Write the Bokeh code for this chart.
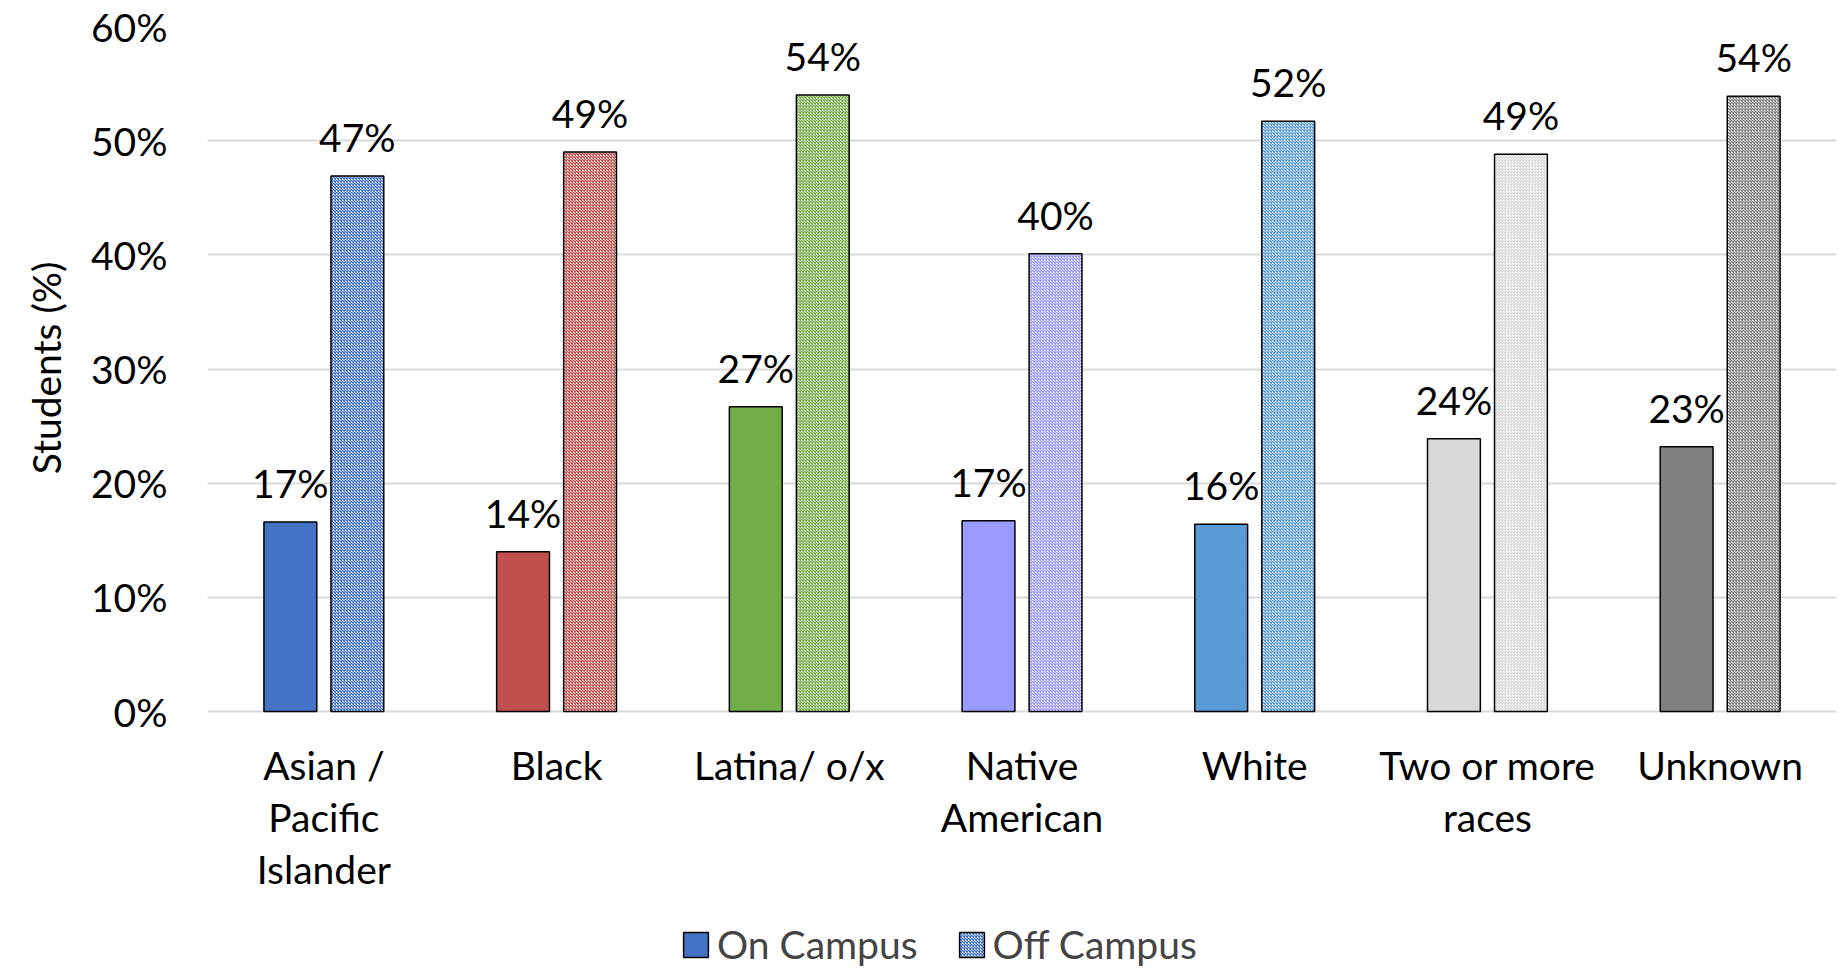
from bokeh.plotting import figure
from bokeh.models import (ColumnDataSource, FactorRange, Range1d, Legend, LegendItem,
                          FixedTicker, PrintfTickFormatter, Title)
from bokeh.transform import dodge
from bokeh.core.properties import value
from bokeh.embed import file_html
from bokeh.resources import INLINE

# ---- data ----
categories = ["Asian /\nPacific\nIslander", "Black", "Latina/ o/x", "Native\nAmerican",
              "White", "Two or more\nraces", "Unknown"]
on_campus = [16.6, 14.0, 26.7, 16.7, 16.4, 23.9, 23.2]
off_campus = [46.9, 49.0, 54.0, 40.1, 51.7, 48.8, 53.9]
colors = ["#4472C4", "#C0504D", "#70AD47", "#9999FF", "#5B9BD5", "#D9D9D9", "#808080"]
y_ticks = [0, 10, 20, 30, 40, 50, 60]
series_names = ["On Campus", "Off Campus"]
y_label = "Students (%)"

FONT = "Lato"
FS = "39px"

src = ColumnDataSource(dict(
    cat=categories,
    on=on_campus,
    off=off_campus,
    color=colors,
    on_lbl=[f"{round(v)}%" for v in on_campus],
    off_lbl=[f"{round(v)}%" for v in off_campus],
))

# frame spans down to the bottom of the canvas so that category labels and
# legend sit inside it; 0% is placed 685px below 60%
FRAME_W, FRAME_H, LEFT, TOP, PX_PER_60 = 1629, 942, 204, 26, 685
y_lo = 60 - FRAME_H * 60 / PX_PER_60

p = figure(x_range=FactorRange(*categories), y_range=Range1d(y_lo, 60),
           frame_width=FRAME_W, frame_height=FRAME_H,
           output_backend="svg", toolbar_location=None,
           x_axis_location=None,
           min_border_left=LEFT, min_border_right=0, min_border_top=TOP,
           min_border_bottom=0)
p.outline_line_color = None
p.background_fill_color = "white"

off_w = 0.144
bw = 0.227
r_on = p.vbar(x=dodge("cat", -off_w, range=p.x_range), top="on", width=bw, source=src,
              fill_color="color", line_color="black", line_width=1.5)
r_off = p.vbar(x=dodge("cat", off_w, range=p.x_range), top="off", width=bw, source=src,
               fill_color="white", line_color="black", line_width=1.5,
               hatch_pattern="diagonal_cross", hatch_color="color",
               hatch_scale=3, hatch_weight=1.5)

p.text(x=dodge("cat", -off_w, range=p.x_range), y="on", text="on_lbl", source=src,
       text_align="center", text_baseline="bottom", y_offset=-16,
       text_font=value(FONT), text_font_size=FS, text_color="black")
p.text(x=dodge("cat", off_w, range=p.x_range), y="off", text="off_lbl", source=src,
       text_align="center", text_baseline="bottom", y_offset=-16,
       text_font=value(FONT), text_font_size=FS, text_color="black")

# category labels (x axis) drawn under the 0% line
p.text(x="cat", y=0, text="cat", source=src, text_align="center", text_baseline="top",
       y_offset=30, text_line_height=1.14,
       text_font=value(FONT), text_font_size=FS, text_color="black")

# y axis
p.yaxis.ticker = FixedTicker(ticks=y_ticks)
p.yaxis.formatter = PrintfTickFormatter(format="%d%%")
p.yaxis.axis_line_color = None
p.yaxis.major_tick_line_color = None
p.yaxis.minor_tick_line_color = None
p.yaxis.major_label_standoff = 34
p.yaxis.major_label_text_font = FONT
p.yaxis.major_label_text_font_size = FS
p.yaxis.major_label_text_color = "black"

ttl = Title(text=y_label, align="right", offset=235, standoff=40,
            text_font=FONT, text_font_size=FS, text_font_style="normal",
            text_color="black")
p.add_layout(ttl, "left")

p.xgrid.grid_line_color = None
p.ygrid.grid_line_color = "#D9D9D9"
p.ygrid.grid_line_width = 2

legend = Legend(items=[LegendItem(label=series_names[0], renderers=[r_on], index=0),
                       LegendItem(label=series_names[1], renderers=[r_off], index=0)],
                orientation="horizontal", location=(473, 1),
                label_text_font=FONT, label_text_font_size=FS,
                glyph_width=31, glyph_height=31, label_standoff=6, spacing=38,
                padding=0, margin=0, border_line_color=None,
                background_fill_alpha=0)
p.add_layout(legend, "center")

open("out.html", "w").write(file_html(p, INLINE))
